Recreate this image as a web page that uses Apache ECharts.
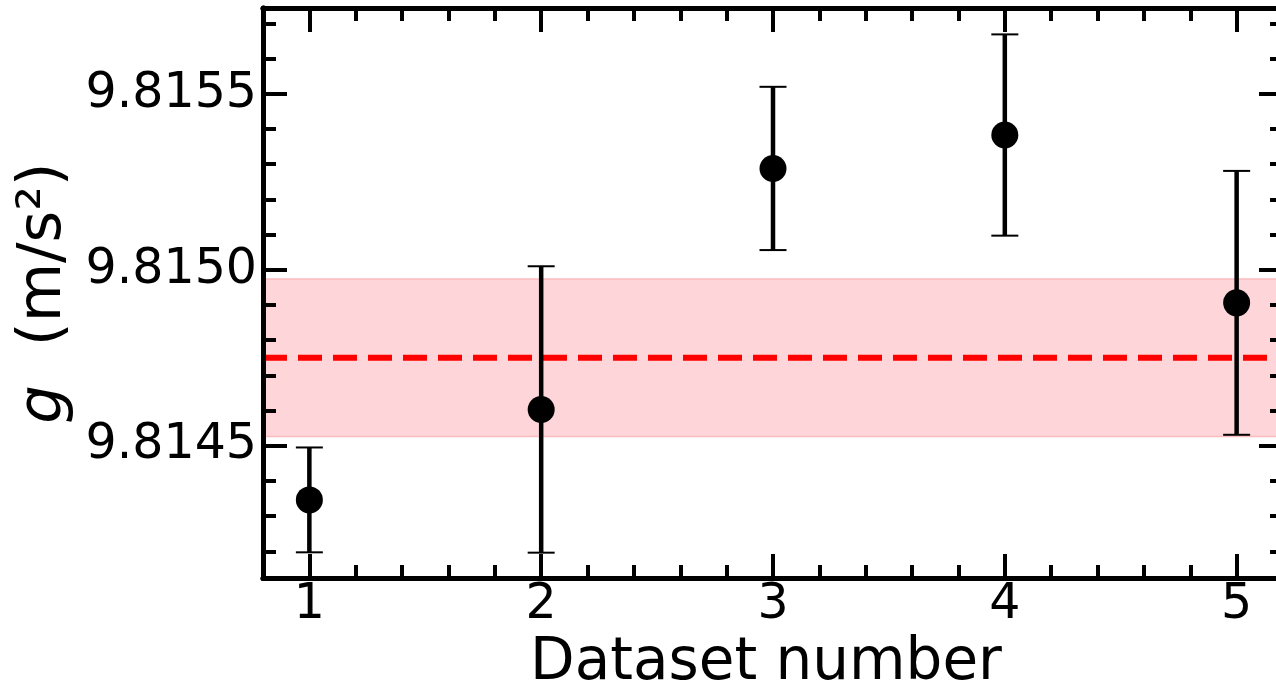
<!DOCTYPE html>
<html>
<head>
<meta charset="utf-8">
<script src="https://cdn.jsdelivr.net/npm/echarts@6/dist/echarts.min.js"></script>
<style>
html,body{margin:0;padding:0;background:#fff;}
#chart{width:1276px;height:688px;}
</style>
</head>
<body>
<div id="chart"></div>
<script>
// ---- data ----
const datasets = [1, 2, 3, 4, 5];
const gValues = [9.814346, 9.814603, 9.815288, 9.815383, 9.814906];
const gErrors = [0.000149, 0.000407, 0.000232, 0.000286, 0.000375];
const meanG = 9.814750;
const meanErr = 0.000224;
const xMajorTicks = [1, 2, 3, 4, 5];
const xMinorTicks = [1.2, 1.4, 1.6, 1.8, 2.2, 2.4, 2.6, 2.8, 3.2, 3.4, 3.6, 3.8, 4.2, 4.4, 4.6, 4.8];
const yMajorTicks = [9.8145, 9.8150, 9.8155];
const yMinorTicks = [9.8142, 9.8143, 9.8144, 9.8146, 9.8147, 9.8148, 9.8149, 9.8151, 9.8152, 9.8153, 9.8154, 9.8156, 9.8157];
const xMin = 0.8, xMax = 5.2;
const yMin = 9.814124, yMax = 9.815744;

const FONT = 'DejaVu Sans';
const tickColor = '#000';

function xAxisDef(pos, ticks, len, withLabels) {
  return {
    type: 'value', position: pos, min: xMin, max: xMax, z: 10,
    axisLine: { show: true, onZero: false, lineStyle: { color: '#000', width: 5 } },
    axisTick: { show: true, inside: true, length: len, customValues: ticks, lineStyle: { color: tickColor, width: 4 } },
    axisLabel: { show: withLabels, customValues: ticks, fontSize: 49, fontFamily: FONT, color: '#000', margin: 3,
      formatter: v => String(Math.round(v)) },
    splitLine: { show: false }
  };
}
function yAxisDef(pos, ticks, len, withLabels) {
  return {
    type: 'value', position: pos, min: yMin, max: yMax, z: 10,
    axisLine: { show: true, onZero: false, lineStyle: { color: '#000', width: 5 } },
    axisTick: { show: true, inside: true, length: len, customValues: ticks, lineStyle: { color: tickColor, width: 4 } },
    axisLabel: { show: withLabels, customValues: ticks, fontSize: 49, fontFamily: FONT, color: '#000', margin: 6,
      formatter: v => v.toFixed(4) },
    splitLine: { show: false }
  };
}

const xAxes = [
  xAxisDef('bottom', xMajorTicks, 24, true),
  xAxisDef('bottom', xMinorTicks, 13, false),
  xAxisDef('top', xMajorTicks, 24, false),
  xAxisDef('top', xMinorTicks, 13, false)
];
Object.assign(xAxes[0], {
  name: 'Dataset number', nameLocation: 'middle', nameGap: 56,
  nameTextStyle: { fontSize: 58, fontFamily: FONT, color: '#000', padding: [0, 14, 0, 0] }
});
const yAxes = [
  yAxisDef('left', yMajorTicks, 24, true),
  yAxisDef('left', yMinorTicks, 13, false),
  yAxisDef('right', yMajorTicks, 24, false),
  yAxisDef('right', yMinorTicks, 13, false)
];
Object.assign(yAxes[0], {
  name: '{i|g}  (m/s²)', nameLocation: 'middle', nameGap: 186,
  nameTextStyle: { fontSize: 61, fontFamily: FONT, color: '#000',
    rich: { i: { fontStyle: 'italic', fontSize: 61, fontFamily: FONT, color: '#000' } } }
});

const chart = echarts.init(document.getElementById('chart'), null, { renderer: 'canvas' });
chart.setOption({
  animation: false,
  backgroundColor: '#fff',
  grid: { left: 263, top: 8, width: 1020, height: 570, containLabel: false, outerBoundsMode: 'none' },
  xAxis: xAxes,
  yAxis: yAxes,
  series: [
    {
      type: 'custom', z: 1, silent: true,
      data: [[meanG, meanErr]],
      renderItem: function (params, api) {
        const m = api.value(0), e = api.value(1);
        const p1 = api.coord([xMin, m + e]);
        const p2 = api.coord([xMax, m - e]);
        return { type: 'rect', shape: { x: p1[0], y: p1[1], width: p2[0] - p1[0], height: p2[1] - p1[1] },
          style: { fill: '#fed5d8', stroke: '#fbbcbf', lineWidth: 1.5 } };
      }
    },
    {
      type: 'line', z: 2, symbol: 'none', silent: true,
      data: [[xMin, meanG], [xMax, meanG]],
      lineStyle: { color: '#ff0000', width: 6, type: [24, 11], cap: 'butt' }
    },
    {
      type: 'custom', z: 3, silent: true,
      data: datasets.map((d, i) => [d, gValues[i], gErrors[i]]),
      renderItem: function (params, api) {
        const x = api.value(0), y = api.value(1), e = api.value(2);
        const t = api.coord([x, y + e]);
        const b = api.coord([x, y - e]);
        const cw = 13.5;
        return { type: 'group', children: [
          { type: 'line', shape: { x1: t[0], y1: t[1], x2: b[0], y2: b[1] }, style: { stroke: '#000', lineWidth: 4.5 } },
          { type: 'line', shape: { x1: t[0] - cw, y1: t[1], x2: t[0] + cw, y2: t[1] }, style: { stroke: '#000', lineWidth: 2 } },
          { type: 'line', shape: { x1: b[0] - cw, y1: b[1], x2: b[0] + cw, y2: b[1] }, style: { stroke: '#000', lineWidth: 2 } }
        ] };
      }
    },
    {
      type: 'scatter', z: 4, silent: true,
      data: datasets.map((d, i) => [d, gValues[i]]),
      symbol: 'circle', symbolSize: 27,
      itemStyle: { color: '#000', opacity: 1 }
    }
  ]
});
</script>
</body>
</html>
